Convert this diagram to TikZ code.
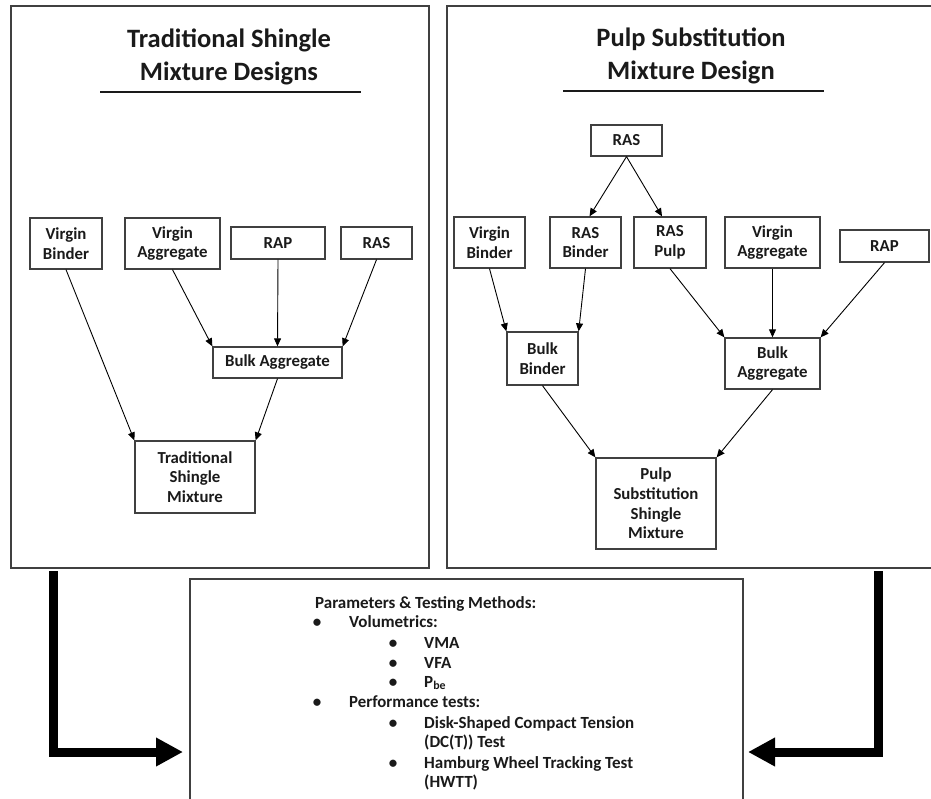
\documentclass[tikz,border=0pt]{standalone}
\usepackage{fontspec}
\usepackage{graphicx}
\setmainfont{Carlito}
\usetikzlibrary{arrows.meta}
\definecolor{edge}{HTML}{404040}
\definecolor{ink}{HTML}{1A1A1A}
\newcommand\bxfont{\fontsize{16.8}{19.7}\selectfont\bfseries}
\newcommand\ttlfont{\fontsize{26.5}{33}\selectfont\bfseries}
\newcommand\lstfont{\fontsize{17}{20}\selectfont\bfseries}
\newcommand\squeeze[2]{\resizebox{#1}{\height}{#2}}
\begin{document}
\begin{tikzpicture}[x=1pt,y=-1pt,
  panel/.style={draw=edge, line width=1.4pt, inner sep=0pt},
  box/.style={draw=edge, line width=1.3pt, fill=white, align=center, inner sep=0pt, font=\bxfont, text=ink},
  ttl/.style={anchor=base, inner sep=0pt, font=\ttlfont, text=ink},
  arr/.style={draw=black, line width=0.9pt, -{Triangle[length=8pt,width=7pt]}},
  big/.style={draw=black, line width=9pt, line join=miter, -{Triangle[length=27pt,width=27pt]}},
  lst/.style={anchor=base west, inner sep=0pt, font=\lstfont, text=ink},
  bul/.style={anchor=base, inner sep=0pt, font=\lstfont, text=ink}]
\useasboundingbox (0,0) rectangle (931,799);
\clip (0,0) rectangle (931,799);
\fill[white] (0,0) rectangle (931,799);

% panels
\node[panel, minimum width=418pt, minimum height=562pt] (lpanel) at (220,287) {};
\node[panel, minimum width=493pt, minimum height=562pt] (rpanel) at (693.5,287) {};
\node[panel, minimum width=553pt, minimum height=233pt] (bottom) at (466.5,695.5) {};

% titles
\node[ttl] (lt1) at (229,48) {Traditional Shingle};
\node[ttl] (lt2) at (229,81) {Mixture Designs};
\draw[line width=2pt, ink] (100,92) -- (361,92);
\node[ttl] (rt1) at (691,47) {Pulp Substitution};
\node[ttl] (rt2) at (691,80) {Mixture Design};
\draw[line width=2pt, ink] (563,91) -- (824,91);

% left panel boxes
\node[box, minimum width=72pt, minimum height=51pt] (lvb) at (66,243.5) {Virgin\\Binder};
\node[box, minimum width=95pt, minimum height=51pt] (lva) at (172.5,243.5) {Virgin\\Aggregate};
\node[box, minimum width=94pt, minimum height=32pt] (lrap) at (278,243) {RAP};
\node[box, minimum width=71pt, minimum height=32pt] (lras) at (376.5,243) {RAS};
\node[box, minimum width=129pt, minimum height=31pt] (lba) at (277.5,362.5) {Bulk Aggregate};
\node[box, minimum width=120pt, minimum height=72pt] (ltsm) at (195,477) {Traditional\\Shingle\\Mixture};

\draw[arr] (lvb.south) -- (ltsm.north west);
\draw[arr] (lva.south) -- (lba.north west);
\draw[arr] (lrap.south) -- (lba.north);
\draw[arr] (lras.south) -- (lba.north east);
\draw[arr] (lba.south) -- (ltsm.north east);

% right panel boxes
\node[box, minimum width=71pt, minimum height=31pt] (rras) at (626.5,140.5) {RAS};
\node[box, minimum width=71pt, minimum height=51pt] (rvb) at (489.5,242.5) {Virgin\\Binder};
\node[box, minimum width=71pt, minimum height=51pt] (rrasb) at (585.5,242.5) {RAS\\Binder};
\node[box, minimum width=72pt, minimum height=51pt] (rrasp) at (670,242.5) {RAS\\Pulp};
\node[box, minimum width=95pt, minimum height=51pt] (rva) at (772.5,242.5) {Virgin\\Aggregate};
\node[box, minimum width=89pt, minimum height=32pt] (rrap) at (884.5,246) {RAP};
\node[box, minimum width=71pt, minimum height=53pt] (rbb) at (542.5,358.5) {Bulk\\Binder};
\node[box, minimum width=95pt, minimum height=51pt] (rba) at (772.5,363.5) {Bulk\\Aggregate};
\node[box, minimum width=120pt, minimum height=91pt] (rpssm) at (656,503.5) {Pulp\\Substitution\\Shingle\\Mixture};

\draw[arr] (rras.south) -- ([xshift=4pt]rrasb.north);
\draw[arr] (rras.south) -- ([xshift=-8pt]rrasp.north);
\draw[arr] (rvb.south) -- (rbb.north west);
\draw[arr] (rrasb.south) -- (rbb.north east);
\draw[arr] (rrasp.south) -- (rba.north west);
\draw[arr] (rva.south) -- (rba.north);
\draw[arr] (rrap.south) -- (rba.north east);
\draw[arr] (rbb.south) -- (rpssm.north west);
\draw[arr] (rba.south) -- (rpssm.north east);

% big arrows
\coordinate (la0) at (53,571);
\coordinate (la1) at (183,752);
\coordinate (ra0) at (878.5,571);
\coordinate (ra1) at (748,752);
\draw[big] (la0) |- (la1);
\draw[big] (ra0) |- (ra1);

% bottom text
\node[lst] (p0) at (315,608) {Parameters \& Testing Methods:};
\node[bul] (b1) at (317,627) {•};
\node[lst] (p1) at (349,627) {Volumetrics:};
\node[bul] (b2) at (393,648) {•};
\node[lst] (p2) at (424,648) {VMA};
\node[bul] (b3) at (393,668) {•};
\node[lst] (p3) at (424,668) {VFA};
\node[bul] (b4) at (393,687) {•};
\node[lst] (p4) at (424,687) {P\textsubscript{be}};
\node[bul] (b5) at (317,707) {•};
\node[lst] (p5) at (349,707) {\squeeze{131pt}{Performance tests:}};
\node[bul] (b6) at (393,728) {•};
\node[lst] (p6) at (424,728) {\squeeze{210pt}{Disk-Shaped Compact Tension}};
\node[lst] (p7) at (424,747) {(DC(T)) Test};
\node[bul] (b8) at (393,768) {•};
\node[lst] (p8) at (424,768) {\squeeze{209pt}{Hamburg Wheel Tracking Test}};
\node[lst] (p9) at (424,787) {(HWTT)};
\end{tikzpicture}
\end{document}
